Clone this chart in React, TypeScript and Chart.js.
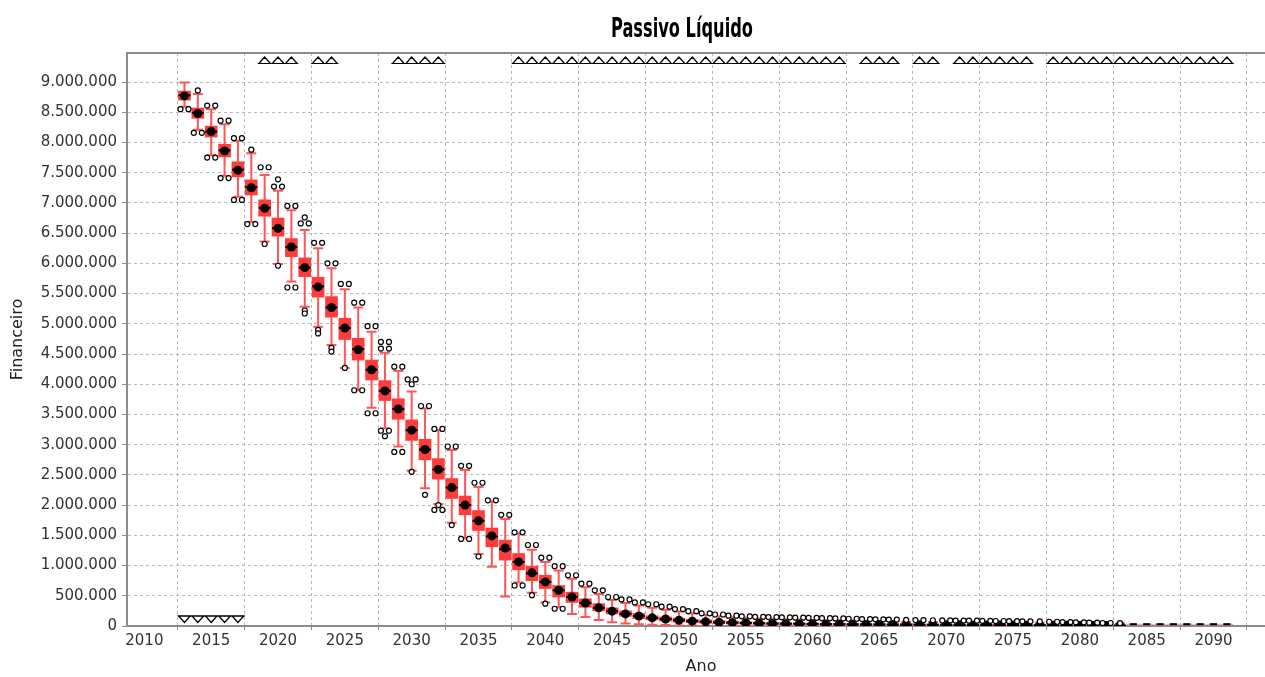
import React, { useEffect, useRef } from "react";
import { Chart, registerables } from "chart.js";

Chart.register(...registerables);

// ---------- data ----------
const YEARS = [
  2013, 2014, 2015, 2016, 2017, 2018, 2019, 2020, 2021, 2022, 2023, 2024, 2025, 2026, 2027, 2028, 2029, 2030,
  2031, 2032, 2033, 2034, 2035, 2036, 2037, 2038, 2039, 2040, 2041, 2042, 2043, 2044, 2045, 2046, 2047, 2048,
  2049, 2050, 2051, 2052, 2053, 2054, 2055, 2056, 2057, 2058, 2059, 2060, 2061, 2062, 2063, 2064, 2065, 2066,
  2067, 2068, 2069, 2070, 2071, 2072, 2073, 2074, 2075, 2076, 2077, 2078, 2079, 2080, 2081, 2082, 2083, 2084,
  2085, 2086, 2087, 2088, 2089, 2090, 2091,
];

const WHISKER_LOW = [
  8590000, 8210000, 7790000, 7450000, 7100000, 6690000, 6360000, 5990000, 5700000, 5280000, 4950000, 4650000,
  4270000, 3900000, 3610000, 3270000, 2970000, 2570000, 2280000, 2020000, 1710000, 1450000, 1190000, 980000,
  490000, 720000, 550000, 390000, 310000, 200000, 150000, 100000, 60000, 40000, 30000, 20000, 15000, 10000,
  8000, 6000, 5000, 4000, 3000, 3000, 2000, 2000, 2000, 1000, 1000, 1000, 1000, 1000, 0, 0, 0, 0, 0, 0, 0, 0, 0,
  0, 0, 0, 0, 0, 0, 0, 0, 0, 0, 30000, 30000, 30000, 30000, 30000, 30000, 30000, 30000,
];

const Q1 = [
  8700000, 8400000, 8090000, 7760000, 7430000, 7130000, 6780000, 6450000, 6110000, 5780000, 5440000, 5110000,
  4740000, 4400000, 4070000, 3730000, 3420000, 3070000, 2750000, 2430000, 2110000, 1840000, 1580000, 1310000,
  1090000, 930000, 750000, 620000, 480000, 390000, 310000, 250000, 200000, 160000, 120000, 100000, 80000, 65000,
  55000, 45000, 38000, 32000, 28000, 25000, 22000, 20000, 18000, 16000, 15000, 14000, 13000, 12000, 11000, 10000,
  10000, 9000, 9000, 8000, 8000, 7000, 7000, 6000, 6000, 5000, 5000, 4000, 4000, 3000, 3000, 2000, 2000, 30000,
  30000, 30000, 30000, 30000, 30000, 30000, 30000,
];

const MEDIAN = [
  8780000, 8490000, 8180000, 7870000, 7550000, 7260000, 6920000, 6580000, 6270000, 5930000, 5620000, 5270000,
  4930000, 4580000, 4240000, 3890000, 3590000, 3240000, 2920000, 2590000, 2290000, 2000000, 1740000, 1480000,
  1270000, 1060000, 870000, 730000, 590000, 480000, 380000, 300000, 245000, 200000, 165000, 135000, 115000, 95000,
  80000, 70000, 60000, 55000, 50000, 45000, 41000, 38000, 35000, 33000, 31000, 29000, 27000, 26000, 25000, 24000,
  23000, 22000, 21000, 20000, 19000, 18000, 17000, 16000, 15000, 14000, 13000, 12000, 11000, 10000, 9000, 8000,
  7000, 30000, 30000, 30000, 30000, 30000, 30000, 30000, 30000,
];

const Q3 = [
  8850000, 8570000, 8270000, 7970000, 7680000, 7380000, 7050000, 6750000, 6410000, 6090000, 5770000, 5450000,
  5090000, 4760000, 4400000, 4060000, 3760000, 3410000, 3090000, 2770000, 2440000, 2150000, 1910000, 1620000,
  1420000, 1200000, 990000, 840000, 670000, 560000, 450000, 370000, 300000, 250000, 210000, 170000, 150000, 130000,
  110000, 100000, 90000, 80000, 72000, 66000, 61000, 57000, 53000, 50000, 47000, 45000, 42000, 40000, 38000, 36000,
  35000, 34000, 33000, 32000, 31000, 30000, 29000, 28000, 27000, 26000, 25000, 24000, 23000, 22000, 21000, 20000,
  18000, 30000, 30000, 30000, 30000, 30000, 30000, 30000, 30000,
];

const WHISKER_HIGH = [
  8990000, 8800000, 8550000, 8300000, 8030000, 7820000, 7460000, 7200000, 6880000, 6550000, 6250000, 5920000,
  5570000, 5270000, 4870000, 4520000, 4220000, 3880000, 3600000, 3240000, 2910000, 2580000, 2300000, 2060000,
  1770000, 1530000, 1260000, 1060000, 920000, 780000, 640000, 530000, 430000, 380000, 340000, 300000, 270000,
  240000, 210000, 180000, 160000, 145000, 135000, 125000, 118000, 112000, 106000, 100000, 95000, 90000, 86000,
  82000, 78000, 75000, 72000, 70000, 68000, 66000, 64000, 62000, 60000, 58000, 56000, 54000, 52000, 50000, 48000,
  46000, 44000, 42000, 40000, 30000, 30000, 30000, 30000, 30000, 30000, 30000, 30000,
];

const MEAN: (number | null)[] = [
  8770000, 8480000, 8180000, 7860000, 7540000, 7250000, 6910000, 6580000, 6270000, 5930000, 5610000, 5270000,
  4930000, 4570000, 4240000, 3890000, 3590000, 3240000, 2920000, 2590000, 2290000, 2000000, 1740000, 1490000,
  1290000, 1060000, 880000, 730000, 590000, 480000, 380000, 300000, 245000, 200000, 165000, 135000, 115000, 95000,
  80000, 70000, 60000, 55000, 50000, 45000, 41000, 38000, 35000, 33000, 31000, 29000, 27000, 26000, 25000, 24000,
  23000, 22000, 21000, 20000, 19000, 18000, 17000, 16000, 15000, 14000, 13000, 12000, 11000, 10000, 9000, 8000,
  7000, null, null, null, null, null, null, null, null,
];

const OUTLIERS: number[][] = [
  [8550000, 8550000],
  [8860000, 8160000, 8160000],
  [8610000, 8610000, 7750000, 7750000],
  [8360000, 8360000, 7410000, 7410000],
  [8070000, 8070000, 7050000, 7050000],
  [7880000, 6650000, 6650000],
  [7590000, 7590000, 6320000],
  [7270000, 7270000, 7390000, 5960000],
  [6950000, 6950000, 5600000, 5600000],
  [6660000, 6660000, 6760000, 5220000, 5170000],
  [6340000, 6340000, 4900000, 4840000],
  [6000000, 6000000, 4600000, 4540000],
  [5660000, 5660000, 4270000],
  [5350000, 5350000, 3900000, 3900000],
  [4960000, 4960000, 3520000, 3520000],
  [4590000, 4590000, 4700000, 4700000, 3230000, 3230000, 3140000],
  [4290000, 4290000, 2880000, 2880000],
  [4000000, 4080000, 4080000, 2550000],
  [3640000, 3640000, 2170000],
  [3260000, 3260000, 1920000, 1920000, 2000000],
  [2970000, 2970000, 1670000],
  [2650000, 2650000, 1440000, 1440000],
  [2370000, 2370000, 1150000],
  [2080000, 2080000],
  [1840000, 1840000],
  [1550000, 1550000, 670000, 670000],
  [1340000, 1340000, 510000],
  [1130000, 1130000, 370000],
  [990000, 990000, 285000, 285000],
  [840000, 840000],
  [700000, 700000],
  [590000, 590000],
  [480000, 480000],
  [440000, 440000],
  [390000, 390000],
  [360000, 360000],
  [320000, 320000],
  [280000, 280000],
  [245000, 245000],
  [210000, 210000],
  [190000, 190000],
  [170000, 170000],
  [160000, 160000],
  [152000, 152000],
  [148000, 148000],
  [144000, 144000],
  [140000, 140000],
  [135000, 135000],
  [130000, 130000],
  [126000, 126000],
  [120000, 120000],
  [115000, 115000],
  [110000, 110000],
  [106000, 106000],
  [100000],
  [98000, 98000],
  [95000],
  [93000, 93000],
  [90000, 90000],
  [88000, 88000],
  [85000, 85000],
  [83000, 83000],
  [80000, 80000],
  [78000, 78000],
  [75000],
  [70000, 70000],
  [65000, 65000],
  [60000, 60000],
  [55000, 55000],
  [50000, 50000],
  [46000],
  [], [], [], [], [], [], [], [],
];

// years whose outliers lie beyond the plotted range (drawn as triangles)
const FAR_OUT_HIGH_YEARS = [
  2019, 2020, 2021, 2023, 2024, 2029, 2030, 2031, 2032, 2038, 2039, 2040, 2041, 2042, 2043, 2044, 2045, 2046,
  2047, 2048, 2049, 2050, 2051, 2052, 2053, 2054, 2055, 2056, 2057, 2058, 2059, 2060, 2061, 2062, 2064, 2065,
  2066, 2068, 2069, 2071, 2072, 2073, 2074, 2075, 2076, 2078, 2079, 2080, 2081, 2082, 2083, 2084, 2085, 2086,
  2087, 2088, 2089, 2090, 2091,
];
const FAR_OUT_LOW_YEARS = [2013, 2014, 2015, 2016, 2017];

const X_TICKS = [2010, 2015, 2020, 2025, 2030, 2035, 2040, 2045, 2050, 2055, 2060, 2065, 2070, 2075, 2080, 2085, 2090];
const Y_TICKS = [
  0, 500000, 1000000, 1500000, 2000000, 2500000, 3000000, 3500000, 4000000, 4500000, 5000000, 5500000, 6000000,
  6500000, 7000000, 7500000, 8000000, 8500000, 9000000,
];
const X_MIN = 2008.7;
const X_MAX = 2094.6;
const Y_MIN = 0;
const Y_MAX = 9480000;

const TITLE = "Passivo Líquido";
const X_TITLE = "Ano";
const Y_TITLE = "Financeiro";

// ---------- styles ----------
const BOX_COLOR = "#FF3C3C";
const WHISKER_COLOR = "#FF5555";
const GRID_COLOR = "#B8B8B8";
const AXIS_COLOR = "#8C8C8C";
const TICK_FONT = { family: "'DejaVu Sans', sans-serif", size: 15 };
const LABEL_FONT = { family: "'DejaVu Sans', sans-serif", size: 16 };
const TITLE_FONT = "bold 27px 'Liberation Sans Narrow', 'DejaVu Sans Condensed', 'Liberation Sans', sans-serif";
const TITLE_CENTER_X = 682; // the chart title is centred on the (uncropped) chart
const TITLE_CENTER_Y = 30;
const TITLE_MAX_WIDTH = 142;

function formatThousands(v: number): string {
  return String(Math.round(v)).replace(/\B(?=(\d{3})+(?!\d))/g, ".");
}

function clipArea(ctx: CanvasRenderingContext2D, a: any) {
  ctx.beginPath();
  ctx.rect(a.left, a.top, a.right - a.left, a.bottom - a.top);
  ctx.clip();
}

function drawTriangleRow(ctx: CanvasRenderingContext2D, xs: number[], baseY: number, dir: number) {
  // dir = -1: apex up (high far-out), dir = 1: apex down (low far-out)
  const half = 5.8;
  const h = 6.5;
  ctx.beginPath();
  for (const px of xs) {
    ctx.moveTo(px - half, baseY);
    ctx.lineTo(px, baseY + dir * h);
    ctx.lineTo(px + half, baseY);
    ctx.closePath();
  }
  ctx.fill();
  ctx.stroke();
  // continuous base line under neighbouring triangles
  ctx.beginPath();
  for (const px of xs) {
    ctx.moveTo(px - 6.8, baseY);
    ctx.lineTo(px + 6.8, baseY);
  }
  ctx.stroke();
}

const boxExtras = {
  id: "boxExtras",
  beforeDatasetsDraw(chart: any) {
    const { ctx, chartArea, scales } = chart;
    const x = scales.x;
    const y = scales.y;
    ctx.save();
    clipArea(ctx, chartArea);
    ctx.strokeStyle = WHISKER_COLOR;
    ctx.lineWidth = 2;
    for (let i = 0; i < YEARS.length; i++) {
      if (WHISKER_HIGH[i] === WHISKER_LOW[i]) continue;
      const px = x.getPixelForValue(YEARS[i]);
      const yHi = y.getPixelForValue(WHISKER_HIGH[i]);
      const yQ3 = y.getPixelForValue(Q3[i]);
      const yQ1 = y.getPixelForValue(Q1[i]);
      const yLo = y.getPixelForValue(WHISKER_LOW[i]);
      ctx.beginPath();
      ctx.moveTo(px, yQ3);
      ctx.lineTo(px, yHi);
      ctx.moveTo(px - 5, yHi);
      ctx.lineTo(px + 5, yHi);
      ctx.moveTo(px, yQ1);
      ctx.lineTo(px, yLo);
      ctx.moveTo(px - 5, yLo);
      ctx.lineTo(px + 5, yLo);
      ctx.stroke();
    }
    ctx.restore();
  },
  afterDatasetDraw(chart: any, args: any) {
    if (args.index !== 0) return;
    const { ctx, chartArea, scales } = chart;
    const x = scales.x;
    const y = scales.y;
    ctx.save();
    clipArea(ctx, chartArea);
    ctx.strokeStyle = "#000";
    ctx.lineWidth = 2;
    for (let i = 0; i < YEARS.length; i++) {
      const px = x.getPixelForValue(YEARS[i]);
      const py = y.getPixelForValue(MEDIAN[i]);
      const half = Q1[i] === Q3[i] ? 3.5 : 6;
      ctx.beginPath();
      ctx.moveTo(px - half, py);
      ctx.lineTo(px + half, py);
      ctx.stroke();
    }
    ctx.restore();
  },
  afterDatasetsDraw(chart: any) {
    const { ctx, chartArea, scales } = chart;
    const x = scales.x;
    ctx.save();
    ctx.lineWidth = 1.2;
    ctx.strokeStyle = "#000";
    ctx.fillStyle = "#fff";
    drawTriangleRow(ctx, FAR_OUT_HIGH_YEARS.map((yr) => x.getPixelForValue(yr)), chartArea.top + 10.5, -1);
    drawTriangleRow(ctx, FAR_OUT_LOW_YEARS.map((yr) => x.getPixelForValue(yr)), chartArea.bottom - 10, 1);
    // plot outline (top edge; left and bottom are the axis lines)
    ctx.strokeStyle = AXIS_COLOR;
    ctx.lineWidth = 2;
    ctx.beginPath();
    ctx.moveTo(chartArea.left, chartArea.top);
    ctx.lineTo(chartArea.right, chartArea.top);
    ctx.stroke();
    ctx.restore();
  },
  afterDraw(chart: any) {
    const { ctx } = chart;
    ctx.save();
    ctx.font = TITLE_FONT;
    ctx.fillStyle = "#000";
    ctx.textAlign = "center";
    ctx.textBaseline = "middle";
    ctx.fillText(TITLE, TITLE_CENTER_X, TITLE_CENTER_Y, TITLE_MAX_WIDTH);
    ctx.restore();
  },
};

function outlierPoints() {
  const pts: { x: number; y: number }[] = [];
  for (let i = 0; i < YEARS.length; i++) {
    const list = OUTLIERS[i];
    const counts: Record<number, number> = {};
    for (const v of list) counts[v] = (counts[v] || 0) + 1;
    const seen: Record<number, number> = {};
    for (const v of list) {
      const n = counts[v];
      const j = seen[v] || 0;
      seen[v] = j + 1;
      pts.push({ x: YEARS[i] + (j - (n - 1) / 2) * 0.6, y: v });
    }
  }
  return pts;
}

export default function App() {
  const canvasRef = useRef<HTMLCanvasElement | null>(null);

  useEffect(() => {
    const canvas = canvasRef.current;
    if (!canvas) return;
    const chart = new Chart(canvas, {
      type: "bar",
      data: {
        datasets: [
          {
            type: "bar",
            label: "box",
            data: YEARS.map((yr, i) => ({ x: yr, y: [Q1[i], Q3[i]] })) as any,
            backgroundColor: BOX_COLOR,
            borderWidth: 0,
            barThickness: 12,
            grouped: false,
            order: 3,
          } as any,
          {
            type: "scatter",
            label: "mean",
            data: YEARS.map((yr, i) => ({ x: yr, y: MEAN[i] })).filter((p) => p.y !== null) as any,
            pointStyle: "circle",
            pointRadius: 4.5,
            backgroundColor: "#000",
            borderColor: "#000",
            borderWidth: 0,
            order: 2,
          } as any,
          {
            type: "scatter",
            label: "outliers",
            data: outlierPoints() as any,
            pointStyle: "circle",
            pointRadius: 2.5,
            backgroundColor: "#fff",
            borderColor: "#000",
            borderWidth: 1.2,
            order: 1,
          } as any,
        ],
      },
      options: {
        animation: false,
        responsive: true,
        maintainAspectRatio: false,
        layout: { padding: { left: 0, right: 25, top: 53, bottom: 0 } },
        plugins: {
          legend: { display: false },
          tooltip: { enabled: false },
          title: { display: false },
        },
        scales: {
          x: {
            type: "linear",
            min: X_MIN,
            max: X_MAX,
            offset: false,
            afterBuildTicks: (scale: any) => {
              scale.ticks = X_TICKS.map((v) => ({ value: v }));
            },
            afterFit: (scale: any) => {
              scale.height = 51;
            },
            ticks: {
              autoSkip: false,
              maxRotation: 0,
              color: "#333",
              font: TICK_FONT,
              padding: 2,
              callback: (v: any) => String(v),
            },
            grid: {
              color: GRID_COLOR,
              lineWidth: 1,
              tickLength: 4,
              tickColor: AXIS_COLOR,
              tickBorderDash: [],
            },
            border: { display: true, color: AXIS_COLOR, width: 2, dash: [3, 3] },
            title: {
              display: true,
              text: X_TITLE,
              color: "#222",
              font: LABEL_FONT,
              padding: { top: 0, bottom: 1 },
            },
          },
          y: {
            type: "linear",
            min: Y_MIN,
            max: Y_MAX,
            afterBuildTicks: (scale: any) => {
              scale.ticks = Y_TICKS.map((v) => ({ value: v }));
            },
            afterFit: (scale: any) => {
              scale.width = 127;
            },
            ticks: {
              autoSkip: false,
              color: "#333",
              font: TICK_FONT,
              padding: 5,
              callback: (v: any) => formatThousands(Number(v)),
            },
            grid: {
              color: GRID_COLOR,
              lineWidth: 1,
              tickLength: 5,
              tickColor: AXIS_COLOR,
              tickBorderDash: [],
            },
            border: { display: true, color: AXIS_COLOR, width: 2, dash: [3, 3] },
            title: {
              display: true,
              text: Y_TITLE,
              color: "#222",
              font: LABEL_FONT,
              padding: { top: 8, bottom: 0 },
            },
          },
        },
      } as any,
      plugins: [boxExtras],
    });
    return () => chart.destroy();
  }, []);

  return (
    <div style={{ position: "absolute", left: 0, top: 0, width: 1265, height: 677, overflow: "hidden", background: "#fff" }}>
      <div style={{ position: "relative", width: 1300, height: 677 }}>
        <canvas ref={canvasRef} />
      </div>
    </div>
  );
}
